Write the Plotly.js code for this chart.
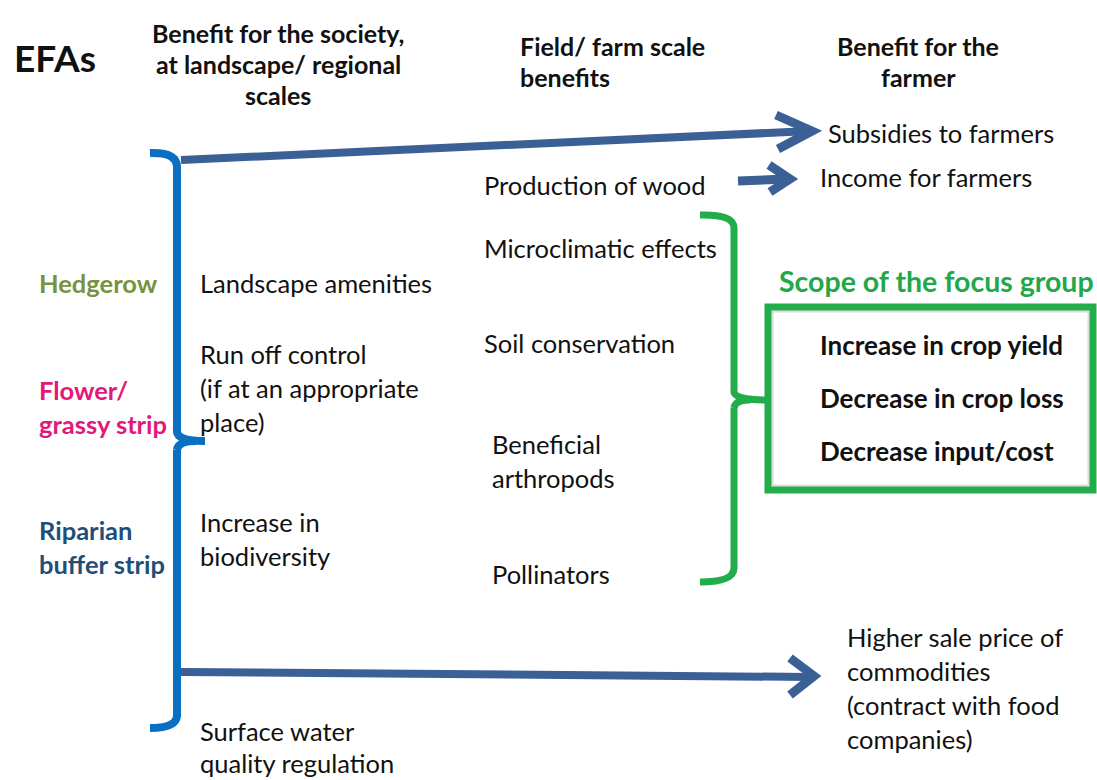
<!DOCTYPE html>
<html><head><meta charset="utf-8">
<script src="https://cdn.plot.ly/plotly-3.0.1.min.js"></script>
<style>html,body{margin:0;padding:0;background:#fff}#chart{width:1097px;height:780px}</style>
</head><body><div id="chart"></div>
<script>
// ---------------- text content ----------------
const headers = ["EFAs", "Benefit for the society,\nat landscape/ regional\nscales", "Field/ farm scale\nbenefits", "Benefit for the\nfarmer"];
const efaTypes = ["Hedgerow", "Flower/\ngrassy strip", "Riparian\nbuffer strip"];
const societyBenefits = ["Landscape amenities", "Run off control\n(if at an appropriate\nplace)", "Increase in\nbiodiversity", "Surface water\nquality regulation"];
const fieldBenefits = ["Production of wood", "Microclimatic effects", "Soil conservation", "Beneficial\narthropods", "Pollinators"];
const farmerBenefits = ["Subsidies to farmers", "Income for farmers", "Higher sale price of\ncommodities\n(contract with food\ncompanies)"];
const focusGroupTitle = ["Scope of the focus group"];
const focusGroupItems = ["Increase in crop yield", "Decrease in crop loss", "Decrease input/cost"];

// ---------------- placement & style ----------------
const FONT = "Lato, 'Open Sans', sans-serif";
const headerPos = [[12, 57, 'left', 37, 0], [278, 33, 'center', 25, 31], [518, 46, 'left', 25, 31], [918, 46, 'center', 25, 31]];
const efaPos = [[37, 283], [37, 390], [37, 530]];
const efaColors = ['#77933C', '#E3187A', '#1F4E79'];
const societyPos = [[198, 283], [198, 354], [198, 522], [198, 731]];
const fieldPos = [[482, 185], [482, 248], [482, 343], [490, 444], [490, 574]];
const farmerPos = [[826, 133], [818, 177], [845, 637]];
const focusTitlePos = [777, 281];
const focusItemPos = [[818, 345], [818, 398], [818, 451]];
const LINE_GAP = 34;
const BODY_SIZE = 25.5;

const annotations = [];
function addText(txt, x, y, opt) {
  const lines = txt.split('\n');
  lines.forEach((ln, i) => {
    annotations.push({
      x: x, y: y + i * (opt.gap || LINE_GAP), xref: 'x', yref: 'y',
      text: opt.bold ? '<b>' + ln + '</b>' : ln,
      showarrow: false, xanchor: opt.anchor || 'left', yanchor: 'middle',
      font: {family: FONT, size: opt.size || BODY_SIZE, color: opt.color || '#111'}
    });
  });
}
headers.forEach((h, i) => addText(h, headerPos[i][0], headerPos[i][1], {anchor: headerPos[i][2], size: headerPos[i][3], gap: headerPos[i][4], bold: true}));
efaTypes.forEach((t, i) => addText(t, efaPos[i][0], efaPos[i][1], {bold: true, size: 25.5, color: efaColors[i]}));
societyBenefits.forEach((t, i) => addText(t, societyPos[i][0], societyPos[i][1], {gap: i === 3 ? 32 : LINE_GAP}));
fieldBenefits.forEach((t, i) => addText(t, fieldPos[i][0], fieldPos[i][1], {}));
farmerBenefits.forEach((t, i) => addText(t, farmerPos[i][0], farmerPos[i][1], {}));
addText(focusGroupTitle[0], focusTitlePos[0], focusTitlePos[1], {bold: true, size: 28.5, color: '#22A84A'});
focusGroupItems.forEach((t, i) => addText(t, focusItemPos[i][0], focusItemPos[i][1], {bold: true, size: 26}));

const BLUE = '#0B6FC1', ARROW = '#3A6096', GREEN = '#22AD4B';
const shapes = [
  // left blue bracket
  {type: 'path', path: 'M 150 153 Q 176 152 177 166 L 177 432 Q 178 441 205 441 M 177 450 Q 178 441 196 441 M 177 450 L 177 716 Q 176 728 150 728', line: {color: BLUE, width: 8}},
  // top arrow
  {type: 'line', x0: 181, y0: 160, x1: 810, y1: 131, line: {color: ARROW, width: 8}},
  {type: 'path', path: 'M 776 115 L 812 131 L 778 149', line: {color: ARROW, width: 9}},
  // small arrow
  {type: 'line', x0: 738, y0: 181, x1: 788, y1: 179, line: {color: ARROW, width: 9}},
  {type: 'path', path: 'M 769 165 L 790 179 L 770 192', line: {color: ARROW, width: 9}},
  // bottom arrow
  {type: 'line', x0: 181, y0: 672, x1: 810, y1: 677, line: {color: ARROW, width: 8}},
  {type: 'path', path: 'M 790 658 L 814 676 L 790 695', line: {color: ARROW, width: 9}},
  // green bracket
  {type: 'path', path: 'M 700 215 Q 734 214 734 228 L 734 392 Q 735 400 767 400 M 734 408 Q 735 400 750 400 M 734 408 L 734 568 Q 734 582 700 582', line: {color: GREEN, width: 7}},
  // green box with faint inner shadow
  {type: 'rect', x0: 768, y0: 307, x1: 1093, y1: 490, line: {color: GREEN, width: 7}, fillcolor: 'rgba(0,0,0,0)'},
  {type: 'rect', x0: 772.5, y0: 311.5, x1: 1088.5, y1: 485.5, line: {color: 'rgba(90,90,90,0.22)', width: 2}, fillcolor: 'rgba(0,0,0,0)'}
];

const layout = {
  width: 1097, height: 780, margin: {l: 0, r: 0, t: 0, b: 0},
  paper_bgcolor: '#fff', plot_bgcolor: '#fff', showlegend: false,
  xaxis: {range: [0, 1097], visible: false, fixedrange: true},
  yaxis: {range: [780, 0], visible: false, fixedrange: true},
  annotations: annotations, shapes: shapes
};
Plotly.newPlot('chart', [], layout, {staticPlot: true, displayModeBar: false});
</script></body></html>
